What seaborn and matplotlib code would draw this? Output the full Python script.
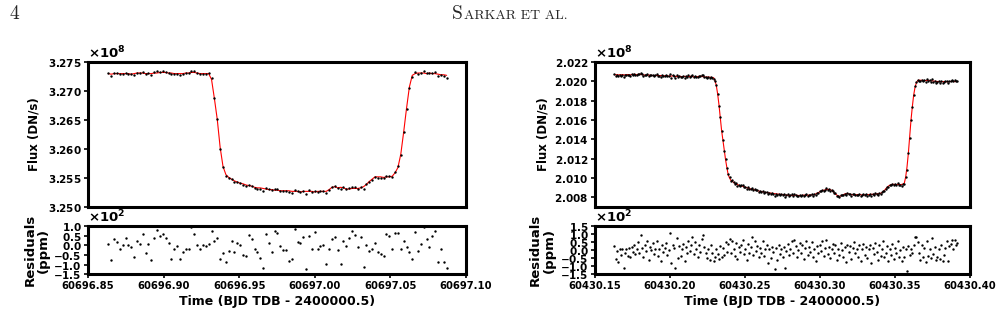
import matplotlib
matplotlib.use("Agg")
import matplotlib.pyplot as plt
from matplotlib.ticker import MultipleLocator
import numpy as np
import pandas as pd
import seaborn as sns

# ---- left transit (flux model in units of 1e8 DN/s, residuals in ppm) ----
left_t0, left_t1 = 60696.8634, 60697.0872
left_model = [
    3.2730, 3.2729, 3.2730, 3.2730, 3.2730, 3.2730, 3.2730, 3.2730, 3.2729, 3.2730,
    3.2731, 3.2731, 3.2731, 3.2730, 3.2730, 3.2730, 3.2731, 3.2731, 3.2732, 3.2732,
    3.2732, 3.2731, 3.2731, 3.2730, 3.2730, 3.2730, 3.2730, 3.2731, 3.2731, 3.2732,
    3.2732, 3.2731, 3.2730, 3.2730, 3.2730, 3.2730,
    3.2720, 3.2687, 3.2651, 3.2603, 3.2570, 3.2556, 3.2551, 3.2548, 3.2545, 3.2543,
    3.2541, 3.2540, 3.2538, 3.2537, 3.2536, 3.2534, 3.2533, 3.2533, 3.2532, 3.2531,
    3.2530, 3.2530, 3.2529, 3.2529, 3.2528, 3.2528, 3.2528, 3.2528, 3.2527,
    3.2527, 3.2527, 3.2526, 3.2527, 3.2527, 3.2527, 3.2527, 3.2526, 3.2527, 3.2527,
    3.2527, 3.2527,
    3.2530, 3.2534, 3.2535, 3.2533, 3.2534, 3.2533, 3.2531, 3.2531, 3.2532, 3.2532,
    3.2532, 3.2533, 3.2535, 3.2539, 3.2544, 3.2548, 3.2552, 3.2552, 3.2552, 3.2551,
    3.2552, 3.2552, 3.2553, 3.2559, 3.2568, 3.2591, 3.2629, 3.2670, 3.2707, 3.2727,
    3.2730,
    3.2731, 3.2731, 3.2731, 3.2730, 3.2731, 3.2730, 3.2730, 3.2729, 3.2728, 3.2728,
    3.2727,
]
left_resid = [
    9, -75, 32, 18, -21, 0, 36, 0, -9, -61,
    21, 7, 61, -39, 7, -75, 38, 82, 50, 57,
    39, 14, -71, -21, -4, -71, -36, -18, -18, 95,
    61, 0, -21, 0, -4, 7, 73, 21, 39, -71,
    -39, -86, -32, 25, -36, 11, 0, -48, -54, 54,
    32, -18, -36, -68, -118, 57, 13, -36, 77, 64,
    -4, -25, -27, -82, -71, 86, 18, 11, 41, -121,
    46, -18, 70, -21, -4, 0, -98, -21, 32, 43,
    -27, -95, 25, -5, 39, 73, 54, -9, 43, -113,
    2, -32, -18, 11, -36, -43, -54, 61, 50, -21,
    63, 64, -18, 21, -7, -36, -71, 71, -32, 9,
    95, 32, -7, 50, 75, -88, -21, -88, -120,
]

# ---- right transit ----
right_t0, right_t1 = 60430.1629, 60430.3916
right_model = [
    2.02072, 2.02068, 2.02070, 2.02066, 2.02069, 2.02067, 2.02070, 2.02068, 2.02066, 2.02069,
    2.02071, 2.02069, 2.02067, 2.02070, 2.02072, 2.02074, 2.02071, 2.02069, 2.02072, 2.02075,
    2.02073, 2.02070, 2.02067, 2.02065, 2.02063, 2.02064, 2.02066, 2.02065, 2.02062, 2.02060,
    2.02061, 2.02063, 2.02062, 2.02060, 2.02059, 2.02061, 2.02058, 2.02056, 2.02058, 2.02060,
    2.02057, 2.02055, 2.02053, 2.02055, 2.02057, 2.02054, 2.02052, 2.02050, 2.02052, 2.02054,
    2.02051, 2.02049, 2.02050, 2.02052, 2.02050, 2.02048, 2.02049, 2.02051, 2.02053, 2.02050,
    2.02048, 2.02046, 2.02048, 2.02050, 2.02052, 2.02054, 2.02051, 2.02048, 2.02046, 2.02045,
    2.02044, 2.02045, 2.02043, 2.02042, 2.02040,
    2.02038, 2.02010, 2.01958, 2.01872, 2.01761, 2.01623, 2.01492, 2.01388, 2.01285, 2.01188,
    2.01105, 2.01032, 2.00998, 2.00974, 2.00963, 2.00953, 2.00943, 2.00936, 2.00929, 2.00922,
    2.00918, 2.00915, 2.00912, 2.00905, 2.00901, 2.00898, 2.00894, 2.00891, 2.00884, 2.00880,
    2.00877, 2.00874, 2.00870, 2.00867, 2.00863, 2.00860,
    2.00857, 2.00855, 2.00852, 2.00849, 2.00847, 2.00845, 2.00842, 2.00840, 2.00838, 2.00836,
    2.00835, 2.00833, 2.00831, 2.00830, 2.00829, 2.00827, 2.00826, 2.00824, 2.00822, 2.00820,
    2.00819, 2.00818, 2.00818, 2.00817, 2.00818, 2.00819, 2.00820, 2.00818, 2.00816, 2.00815,
    2.00816, 2.00818, 2.00820, 2.00821, 2.00820, 2.00819, 2.00820, 2.00821, 2.00822, 2.00823,
    2.00825, 2.00832, 2.00839, 2.00846, 2.00853, 2.00860, 2.00867, 2.00870, 2.00874, 2.00877,
    2.00880, 2.00880, 2.00877, 2.00870, 2.00860, 2.00846, 2.00832, 2.00822, 2.00811, 2.00808,
    2.00811, 2.00818, 2.00825, 2.00832, 2.00836, 2.00836, 2.00832, 2.00829,
    2.00826, 2.00824, 2.00822, 2.00823, 2.00825, 2.00827, 2.00826, 2.00824, 2.00822, 2.00821,
    2.00823, 2.00825, 2.00826, 2.00825, 2.00827, 2.00829, 2.00828, 2.00830, 2.00831, 2.00832,
    2.00834, 2.00836,
    2.00839, 2.00846, 2.00856, 2.00870, 2.00887, 2.00901, 2.00915, 2.00922, 2.00929, 2.00932,
    2.00932, 2.00932, 2.00929, 2.00932, 2.00932, 2.00929, 2.00932, 2.00934,
    2.00946, 2.01008, 2.01112, 2.01250, 2.01423, 2.01596, 2.01734, 2.01855, 2.01934, 2.01982,
    2.02007, 2.02013,
    2.02012, 2.02010, 2.02011, 2.02009, 2.02008, 2.02010, 2.02011, 2.02009, 2.02006, 2.02004,
    2.02002, 2.02001, 2.02000, 2.01999, 2.01998, 2.01997, 2.01996, 2.01997, 2.01998, 2.01997,
    2.01996, 2.01997, 2.01998, 2.01999, 2.02000, 2.01999, 2.01998, 2.01999, 2.02000,
]
right_resid = [
    25, -55, -5, -72, 10, -30, 5, -111, -20, 8,
    -35, 12, -45, 20, -10, 35, -25, 5, 48, -15,
    93, 15, -40, 30, -5, 55, -60, 20, 0, 42,
    -22, 10, 60, -38, 8, -65, 30, -12, 15, 45,
    -30, 0, 105, -80, 30, 15, -109, 74, -50, 25,
    -35, 5, 40, -70, 20, -15, 60, -5, 30, 85,
    -25, 50, 10, -40, 35, -10, 70, 93, 20, -20,
    -50, 5, -60, 30, -15, -70, -40, 10, -25, -55,
    25, -45, 15, -30, 50, -10, 40, 70, -20, 60,
    5, -35, 45, -55, 20, -10, 30, 65, -25, 10,
    -60, 40, -15, 20, 79, -30, 55, -5, 25, -45,
    15, -20, 60, -35, 5, 30, -80, 10, -50, 20,
    -10, -117, 15, -60, 35, -25, 5, -45, 20, -109,
    -5, 40, -30, 10, 55, -20, 65, 25, -40, 0,
    45, -15, 30, -55, 15, 60, -30, 20, -10, 50,
    -45, 10, -70, 25, -20, 35, -5, 55, -35, 15,
    65, -25, 20, -50, 5, 40, -15, 30, -60, 10,
    -30, 45, 0, -40, 20, -75, 35, -10, 25, -55,
    15, 50, -20, 5, -45, 30, -65, 10, 40, -30,
    20, -50, 5, 35, -80, 15, -25, 45, -10, -60,
    30, -35, 10, 55, -45, -15, 25, -70, 5, -30,
    40, -55, 15, -20, 60, -40, 0, -65, 20, -45,
    10, -130, 25, -30, 5, -15, 35, 79, 82, 50,
    -20, -60, 30, -45, 15, -75, 60, -35, 10, -50,
    78, -25, 20, -60, -40, 5, -55, 35, -70, -30,
    15, 55, -65, 25, 40, 62, 10, 62, 30, 45,
]

sns.set_style("ticks")
plt.rcParams.update({
    "font.family": ["DejaVu Sans"],
    "font.weight": "bold",
    "axes.labelweight": "bold",
    "axes.linewidth": 2.2,
    "axes.edgecolor": "black",
    "xtick.labelsize": 7.2,
    "ytick.labelsize": 7.5,
    "xtick.major.size": 3,
    "ytick.major.size": 3,
    "xtick.major.width": 1.2,
    "ytick.major.width": 1.2,
    "xtick.major.pad": 2,
    "ytick.major.pad": 1.5,
    "xtick.color": "black",
    "ytick.color": "black",
    "axes.labelcolor": "black",
})


def make_frame(t0, t1, model, resid):
    time = np.linspace(t0, t1, len(model))
    model = np.array(model) * 1e8
    resid = np.array(resid, dtype=float)
    return pd.DataFrame({
        "time": time,
        "model": model,
        "flux": model * (1 + resid * 1e-6),
        "resid": resid,
    })


def draw_panel(fig, left, width, df, xlim, ylim, ystep, rlim, lab_x):
    ax = fig.add_axes([left, 0.349, width, 0.456])
    axr = fig.add_axes([left, 0.138, width, 0.151])

    sns.lineplot(data=df, x="time", y="model", ax=ax, color="red", lw=0.8,
                 estimator=None, sort=False, zorder=2)
    sns.scatterplot(data=df, x="time", y="flux", ax=ax, color="black", s=3,
                    linewidth=0, zorder=3)
    sns.scatterplot(data=df, x="time", y="resid", ax=axr, color="black", s=3,
                    linewidth=0)

    for a in (ax, axr):
        a.set_xlim(*xlim)
        a.xaxis.set_major_locator(MultipleLocator(0.05))
        for s in a.spines.values():
            s.set_visible(True)
            s.set_linewidth(2.2)

    ax.set_ylim(*ylim)
    ax.yaxis.set_major_locator(MultipleLocator(ystep))
    ax.ticklabel_format(axis="y", style="sci", scilimits=(0, 0),
                        useOffset=False, useMathText=True)
    ax.yaxis.get_offset_text().set_fontsize(9.5)
    ax.tick_params(axis="x", bottom=False, labelbottom=False)
    ax.set_xlabel("")
    ax.set_ylabel("Flux (DN/s)", fontsize=8.5)
    ax.yaxis.set_label_coords(lab_x[0], 0.5)

    axr.set_ylim(*rlim)
    axr.yaxis.set_major_locator(MultipleLocator(50))
    axr.ticklabel_format(axis="y", style="sci", scilimits=(0, 0),
                         useOffset=False, useMathText=True)
    axr.yaxis.get_offset_text().set_fontsize(9.5)
    axr.ticklabel_format(axis="x", style="plain", useOffset=False)
    axr.set_ylabel("Residuals\n(ppm)", fontsize=9.5, linespacing=1.05)
    axr.yaxis.set_label_coords(lab_x[1], 0.5)
    axr.set_xlabel("Time (BJD TDB - 2400000.5)", fontsize=9, labelpad=3)
    return ax, axr


fig = plt.figure(figsize=(10.05, 3.18), dpi=100)

left_df = make_frame(left_t0, left_t1, left_model, left_resid)
right_df = make_frame(right_t0, right_t1, right_model, right_resid)

draw_panel(fig, 0.0876, 0.3761, left_df, (60696.85, 60697.10),
           (3.250e8, 3.275e8), 0.005e8, (-150, 100), (-0.125, -0.10))
draw_panel(fig, 0.592, 0.3731, right_df, (60430.15, 60430.40),
           (2.00697e8, 2.02201e8), 0.002e8, (-150, 150), (-0.12, -0.105))

# page header
fig.text(0.009, 1 - 19 / 318, "4", fontsize=14, family="cmr10",
         fontweight="normal", va="baseline")
fig.text(452 / 1005, 1 - 19 / 318, "S", fontsize=14, family="cmr10",
         fontweight="normal", va="baseline")
fig.text(464 / 1005, 1 - 19 / 318, "ARKAR ET AL.", fontsize=10, family="cmr10",
         fontweight="normal", va="baseline")

fig.savefig("out.png", dpi=100)
